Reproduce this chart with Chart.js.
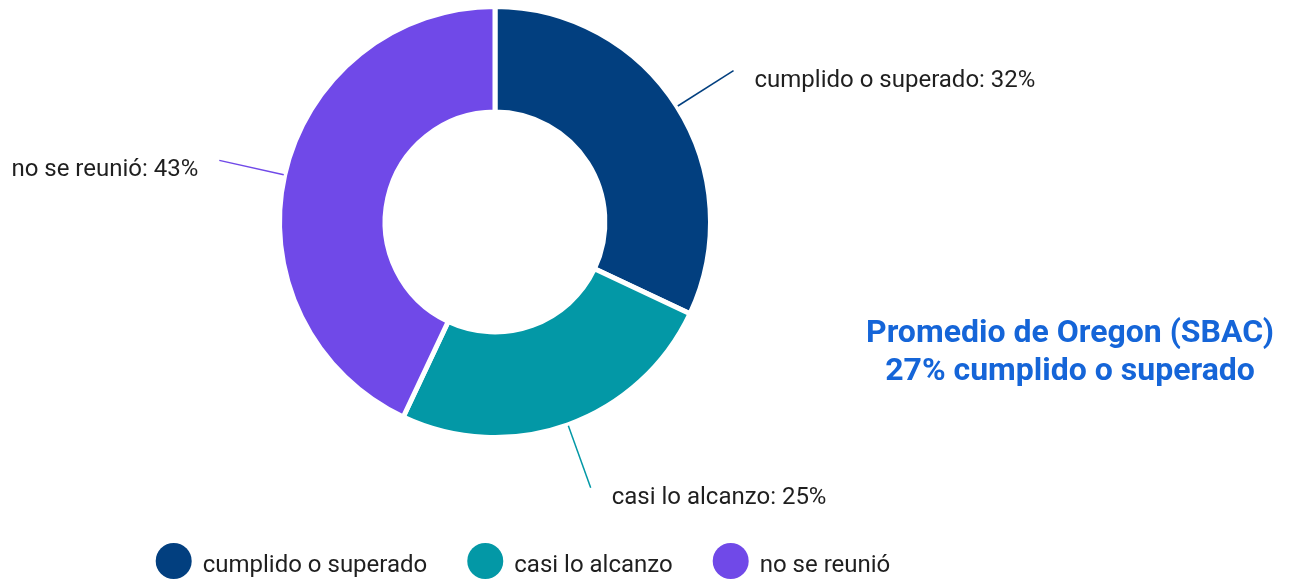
<!DOCTYPE html>
<html>
<head>
<meta charset="utf-8">
<script src="https://cdn.jsdelivr.net/npm/chart.js@4.4.1/dist/chart.umd.min.js"></script>
<style>
    html, body { margin: 0; padding: 0; background: #ffffff; }
    #wrap { position: relative; width: 1290px; height: 579px; }
</style>
</head>
<body>
<div id="wrap"><canvas id="grafico" width="1290" height="579"></canvas></div>
<script>
// Datos del gráfico
const categorias = ['cumplido o superado', 'casi lo alcanzo', 'no se reunió'];
const porcentajes = [32, 25, 43];
const colores = ['#023f7f', '#0398a6', '#7049e8'];
const tituloLineas = ['Promedio de Oregon (SBAC)', '27% cumplido o superado'];

const FUENTE = 'Roboto, "Noto Sans", sans-serif';

// Etiquetas con líneas guía alrededor de la dona
const etiquetasPlugin = {
    id: 'etiquetas',
    afterDatasetsDraw(chart) {
        const ctx = chart.ctx;
        const meta = chart.getDatasetMeta(0);
        ctx.save();
        meta.data.forEach((arc, i) => {
            const p = arc.getProps(['x', 'y', 'startAngle', 'endAngle', 'outerRadius'], true);
            const mid = (p.startAngle + p.endAngle) / 2;
            const cos = Math.cos(mid), sin = Math.sin(mid);
            const r1 = p.outerRadius + 1;
            const r2 = p.outerRadius + 67;
            const x1 = p.x + cos * r1, y1 = p.y + sin * r1;
            const x2 = p.x + cos * r2, y2 = p.y + sin * r2;

            ctx.strokeStyle = colores[i];
            ctx.lineWidth = 1.5;
            ctx.beginPath();
            ctx.moveTo(x1, y1);
            ctx.lineTo(x2, y2);
            ctx.stroke();

            ctx.fillStyle = '#1f1f1f';
            ctx.font = '24px ' + FUENTE;
            ctx.textBaseline = 'middle';
            const texto = categorias[i] + ': ' + porcentajes[i] + '%';
            if (cos >= 0) {
                ctx.textAlign = 'left';
                ctx.fillText(texto, x2 + 21, y2 + 10);
            } else {
                ctx.textAlign = 'right';
                ctx.fillText(texto, x2 - 21, y2 + 10);
            }
        });
        ctx.restore();
    },
    afterDraw(chart) {
        const ctx = chart.ctx;
        ctx.save();

        // Texto del promedio estatal
        ctx.fillStyle = '#1565d8';
        ctx.font = 'bold 32px ' + FUENTE;
        ctx.textAlign = 'center';
        ctx.textBaseline = 'alphabetic';
        ctx.fillText(tituloLineas[0], 1070, 342);
        ctx.fillText(tituloLineas[1], 1070, 380);

        // Leyenda inferior
        ctx.font = '24px ' + FUENTE;
        const radio = 18, hueco = 11, separacion = 40;
        const anchos = categorias.map(c => radio * 2 + hueco + ctx.measureText(c).width);
        const total = anchos.reduce((a, b) => a + b, 0) + separacion * (categorias.length - 1);
        let x = 523 - total / 2;
        categorias.forEach((c, i) => {
            ctx.fillStyle = colores[i];
            ctx.beginPath();
            ctx.arc(x + radio, 561, radio, 0, Math.PI * 2);
            ctx.fill();
            ctx.fillStyle = '#1f1f1f';
            ctx.textAlign = 'left';
            ctx.textBaseline = 'alphabetic';
            ctx.fillText(c, x + radio * 2 + hueco, 572);
            x += anchos[i] + separacion;
        });
        ctx.restore();
    }
};

new Chart(document.getElementById('grafico'), {
    type: 'doughnut',
    data: {
        labels: categorias,
        datasets: [{
            data: porcentajes,
            backgroundColor: colores,
            borderColor: '#ffffff',
            borderWidth: 5,
            hoverOffset: 0
        }]
    },
    options: {
        responsive: false,
        animation: false,
        cutout: '51%',
        layout: { padding: { top: 4, bottom: 139, left: 277, right: 577 } },
        plugins: {
            legend: { display: false },
            tooltip: { enabled: false }
        }
    },
    plugins: [etiquetasPlugin]
});
</script>
</body>
</html>
